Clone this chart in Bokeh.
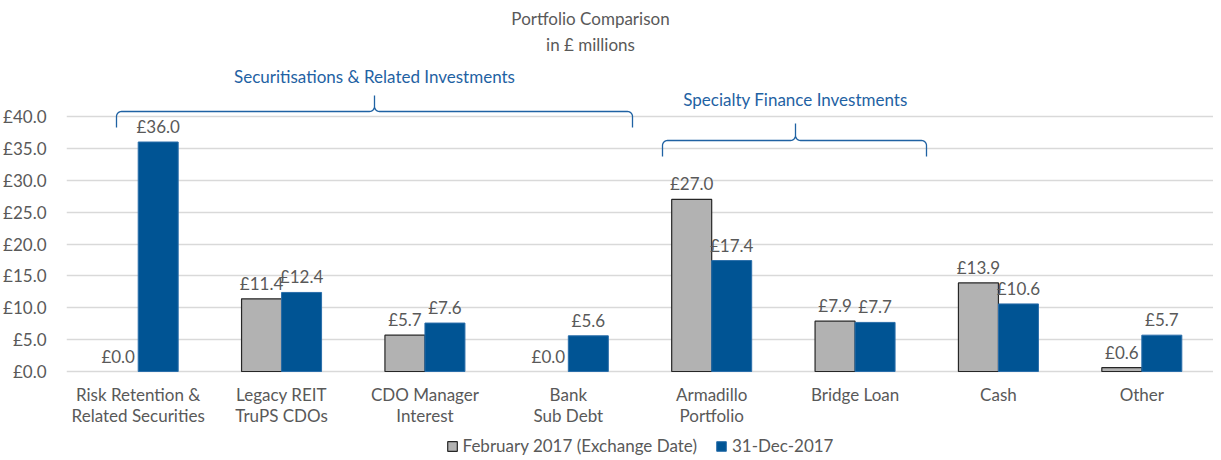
import math
from bokeh.plotting import figure
from bokeh.models import Range1d, FixedTicker, Legend, LegendItem, ColumnDataSource
from bokeh.core.properties import value
from bokeh.embed import file_html
from bokeh.resources import INLINE

# ---- data ----
categories = ["Risk Retention &\nRelated Securities", "Legacy REIT\nTruPS CDOs", "CDO Manager\nInterest",
              "Bank\nSub Debt", "Armadillo\nPortfolio", "Bridge Loan", "Cash", "Other"]
feb_2017 = [0.0, 11.4, 5.7, 0.0, 27.0, 7.9, 13.9, 0.6]
dec_2017 = [36.0, 12.4, 7.6, 5.6, 17.4, 7.7, 10.6, 5.7]
series_names = ["February 2017 (Exchange Date)", "31-Dec-2017"]
y_ticks = [0, 5, 10, 15, 20, 25, 30, 35, 40]
group_names = ["Securitisations & Related Investments", "Specialty Finance Investments"]
title_lines = ["Portfolio Comparison", "in \u00a3 millions"]

# ---- style / layout ----
FONT = "Lato"
FS = "17px"
TXT = "#595959"
GRAY = "#B2B2B2"
BLUE = "#005494"
BRACE = "#1F62A3"
W, H = 1213, 460
LEFT = 66
FRAME_W = W - LEFT
n = len(categories)
sx = FRAME_W / n
sy = 6.375            # px per unit
ZERO_PX = 371         # zero line, px from figure top
Y_HI = ZERO_PX / sy
Y_LO = -(H - ZERO_PX) / sy
bw = 0.279
off = 0.1395

p = figure(width=W, height=H, output_backend="svg", toolbar_location=None,
           x_range=Range1d(0, n), y_range=Range1d(Y_LO, Y_HI), x_axis_location=None,
           min_border_left=LEFT, min_border_right=0, min_border_top=0, min_border_bottom=0)
p.outline_line_color = None
p.background_fill_color = "white"


def py(page_y):
    # page pixel y -> data y
    return (ZERO_PX - page_y) / sy


def px(page_x):
    return (page_x - LEFT) / sx


xs = [i + 0.5 for i in range(n)]
src = ColumnDataSource(dict(
    xg=[x - off for x in xs], xb=[x + off for x in xs],
    feb=feb_2017, dec=dec_2017,
    lcg=["#262626" if v > 0 else None for v in feb_2017],
    lcb=["#2A6EAA" if v > 0 else None for v in dec_2017],
    lf=["\u00a3%.1f" % v for v in feb_2017], ld=["\u00a3%.1f" % v for v in dec_2017]))

rg = p.vbar(x="xg", top="feb", width=bw, source=src, fill_color=GRAY, line_color="lcg", line_width=1.2)
rb = p.vbar(x="xb", top="dec", width=bw, source=src, fill_color=BLUE, line_color="lcb", line_width=1)

for xcol, ycol, lcol in (("xg", "feb", "lf"), ("xb", "dec", "ld")):
    p.text(x=xcol, y=ycol, text=lcol, source=src, text_align="center", text_baseline="bottom",
           y_offset=-5, text_font=value(FONT), text_font_size=FS, text_color=TXT)

# category labels
p.text(x=xs, y=[py(383)] * n, text=categories, text_align="center", text_baseline="top",
       text_line_height=1.0, text_font=value(FONT), text_font_size=FS, text_color=TXT)

# y axis
p.yaxis.ticker = FixedTicker(ticks=y_ticks)
p.yaxis.major_label_overrides = {t: "\u00a3%.1f" % t for t in y_ticks}
p.yaxis.axis_line_color = None
p.yaxis.major_tick_line_color = None
p.yaxis.minor_tick_line_color = None
p.yaxis.major_label_text_font = FONT
p.yaxis.major_label_text_font_size = FS
p.yaxis.major_label_text_color = TXT
p.yaxis.major_label_standoff = 14

p.xgrid.grid_line_color = None
p.ygrid.ticker = FixedTicker(ticks=y_ticks)
p.ygrid.grid_line_color = "#D9D9D9"
p.ygrid.grid_line_width = 1.5


# braces
def brace(x0, x1, xm, y_end, y_h, y_peak, r=5):
    rx, ry = r / sx, r / sy
    X, Y = [x0], [y_end]

    def arc(cx, cy, a0, a1, k=8):
        for j in range(k + 1):
            t = a0 + (a1 - a0) * j / k
            X.append(cx + rx * math.cos(t)); Y.append(cy + ry * math.sin(t))
    arc(x0 + rx, y_h - ry, math.pi, math.pi / 2)
    arc(xm - rx, y_h + ry, -math.pi / 2, 0)
    X.append(xm); Y.append(y_peak)
    arc(xm + rx, y_h + ry, math.pi, 1.5 * math.pi)
    arc(x1 - rx, y_h - ry, math.pi / 2, 0)
    X.append(x1); Y.append(y_end)
    p.line(X, Y, line_color=BRACE, line_width=1.3)


brace_geo = [  # (x0, x1, xm, y_end, y_h, y_peak, label_y) in page px
    (116, 632, 374, 127, 111, 95, 76),
    (662, 926, 795, 156, 140, 123, 99),
]
for name, (a, b, m, ye, yh, yp, ly) in zip(group_names, brace_geo):
    brace(px(a), px(b), px(m), py(ye), py(yh), py(yp))
    p.text(x=[px(m)], y=[py(ly)], text=[name], text_align="center", text_baseline="middle",
           text_font=value(FONT), text_font_size=FS, text_color=BRACE)

# title
for line, yy in zip(title_lines, (18, 44)):
    p.text(x=[px(590)], y=[py(yy)], text=[line], text_align="center", text_baseline="middle",
           text_font=value(FONT), text_font_size="17px", text_color=TXT)

legend = Legend(items=[LegendItem(label=series_names[0], renderers=[rg], index=1),
                       LegendItem(label=series_names[1], renderers=[rb], index=1)],
                orientation="horizontal", location="bottom_center",
                label_text_font=FONT, label_text_font_size=FS, label_text_color=TXT,
                glyph_width=12, glyph_height=12, spacing=18, label_standoff=5,
                border_line_alpha=0, background_fill_alpha=0, padding=2, margin=2)
p.add_layout(legend)

open("out.html", "w").write(file_html(p, INLINE))
